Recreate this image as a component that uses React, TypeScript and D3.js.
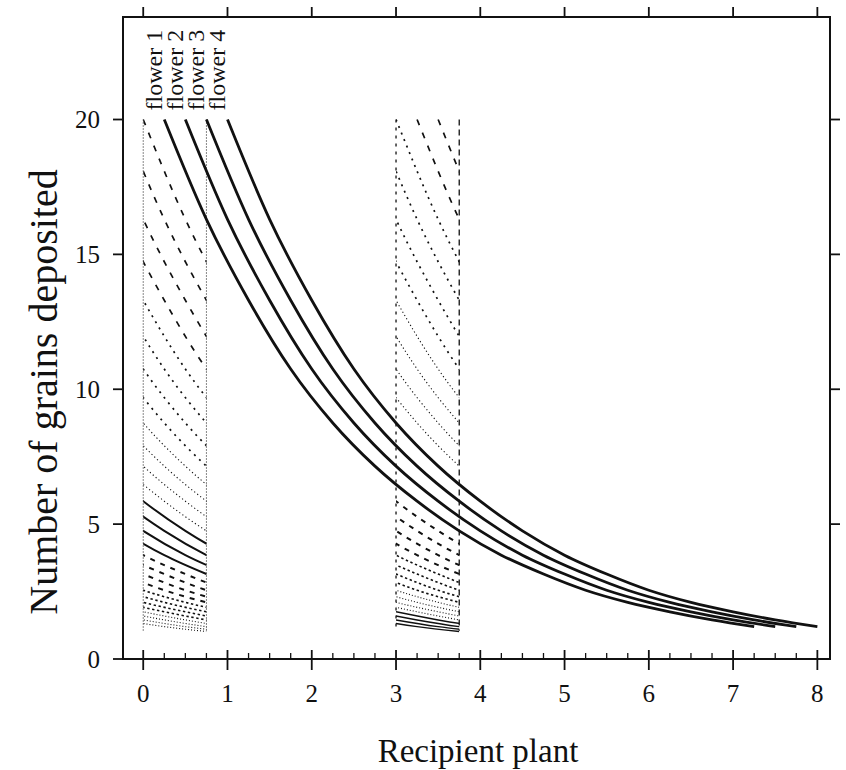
import React from 'react';
import * as d3 from 'd3';

// ---------- data ----------
const xTicks = [0, 1, 2, 3, 4, 5, 6, 7, 8];
const xMinorTicks = [0.25, 0.5, 0.75, 1.25, 1.5, 1.75, 2.25, 2.5, 2.75, 3.25, 3.5, 3.75, 4.25, 4.5, 4.75, 5.25, 5.5, 5.75, 6.25, 6.5, 6.75, 7.25, 7.5, 7.75];
const yTicks = [0, 5, 10, 15, 20];

// shape of the deposition curve (grains vs. distance from the first recipient)
const profileDistance = [0, 0.5, 1, 1.5, 2, 2.5, 3, 3.5, 4, 4.5, 5, 5.5, 6, 6.5, 7, 7.5];
const profileValue = [20, 16.3, 13.3, 10.75, 8.75, 7.15, 5.85, 4.75, 3.85, 3.15, 2.55, 2.1, 1.75, 1.45, 1.2, 1.02];

const flowerNames = ['flower 1', 'flower 2', 'flower 3', 'flower 4'];
const flowerStarts = [0.25, 0.5, 0.75, 1.0];
const flowerSpan = 7;

// hatched recipient windows
const region1Bounds = [0, 0.75];
const region1Styles = ['longDash', 'medDot', 'fineDot', 'solid', 'shortDash', 'denseDot', 'tinyDot'];
const region1Starts = [
  [0, -0.25, -0.5, -0.75],
  [-1, -1.25, -1.5, -1.75],
  [-2, -2.25, -2.5, -2.75],
  [-3, -3.25, -3.5, -3.75],
  [-4, -4.25, -4.5, -4.75],
  [-5, -5.25, -5.5, -5.75],
  [-6, -6.25, -6.5, -6.75],
];

const region2Bounds = [3, 3.75];
const region2Styles = ['longDash', 'medDot', 'fineDot', 'shortDash', 'denseDot', 'tinyDot', 'thinSolid'];
const region2Starts = [
  [3.25, 3.5],
  [2.25, 2.5, 2.75, 3.0],
  [1.25, 1.5, 1.75, 2.0],
  [-0.75, -0.5, -0.25, 0],
  [-1.75, -1.5, -1.25, -1],
  [-2.75, -2.5, -2.25, -2],
  [-3.75, -3.5, -3.25, -3],
];
const regionBottom = 1.05;
const regionTop = 20;

// ---------- styles ----------
const lineStyles: Record<string, { w: number; dash: string | null }> = {
  longDash: { w: 1.7, dash: '6 8' },
  medDot: { w: 1.7, dash: '2 5' },
  fineDot: { w: 1.1, dash: '1.2 2.6' },
  solid: { w: 2, dash: null },
  thinSolid: { w: 1.5, dash: null },
  shortDash: { w: 2, dash: '5 6' },
  denseDot: { w: 1.6, dash: '2.4 2.6' },
  tinyDot: { w: 1.1, dash: '1 2' },
};

const W = 846;
const H = 770;

export default function App() {
  const x = d3.scaleLinear().domain([-0.24, 8.15]).range([123, 830]);
  const y = d3.scaleLinear().domain([0, 23.8]).range([659, 17]);

  const line = d3
    .line<[number, number]>()
    .x((d) => x(d[0]))
    .y((d) => y(d[1]))
    .curve(d3.curveMonotoneX);

  const curvePts = (s: number, maxD: number): [number, number][] =>
    profileDistance
      .map((d, i) => [s + d, profileValue[i]] as [number, number])
      .filter((p, i) => profileDistance[i] <= maxD + 1e-9);

  const renderRegion = (
    id: string,
    bounds: number[],
    styles: string[],
    starts: number[][]
  ) => (
    <g clipPath={`url(#${id})`}>
      {starts.map((grp, gi) =>
        grp.map((s, li) => {
          const st = lineStyles[styles[gi]];
          return (
            <path
              key={`${id}-${gi}-${li}`}
              d={line(curvePts(s, 7.5)) || ''}
              fill="none"
              stroke="#111"
              strokeWidth={st.w}
              strokeDasharray={st.dash || undefined}
            />
          );
        })
      )}
    </g>
  );

  const font = '"Liberation Serif", "Times New Roman", serif';

  return (
    <svg
      width={W}
      height={H}
      style={{ position: 'absolute', left: 0, top: 0, background: '#fff' }}
      fontFamily={font}
    >
      <defs>
        <clipPath id="r1">
          <rect
            x={x(region1Bounds[0])}
            y={y(regionTop + 0.5)}
            width={x(region1Bounds[1]) - x(region1Bounds[0])}
            height={y(regionBottom - 0.3) - y(regionTop + 0.5)}
          />
        </clipPath>
        <clipPath id="r2">
          <rect
            x={x(region2Bounds[0])}
            y={y(regionTop + 0.5)}
            width={x(region2Bounds[1]) - x(region2Bounds[0])}
            height={y(regionBottom - 0.3) - y(regionTop + 0.5)}
          />
        </clipPath>
      </defs>
      <rect width={W} height={H} fill="#fff" />

      {/* frame */}
      <rect x={123} y={17} width={707} height={642} fill="none" stroke="#111" strokeWidth={2} />

      {/* x ticks bottom */}
      {xTicks.map((t) => (
        <g key={`xt${t}`}>
          <line x1={x(t)} x2={x(t)} y1={650} y2={670} stroke="#111" strokeWidth={1.8} />
          <text x={x(t)} y={702} fontSize={25} textAnchor="middle" fill="#111">
            {t}
          </text>
          <line x1={x(t)} x2={x(t)} y1={17} y2={7} stroke="#111" strokeWidth={1.8} />
        </g>
      ))}
      {xMinorTicks.map((t) => (
        <line key={`xm${t}`} x1={x(t)} x2={x(t)} y1={653} y2={659} stroke="#111" strokeWidth={1.3} />
      ))}

      {/* y ticks */}
      {yTicks.map((t) => (
        <g key={`yt${t}`}>
          <line x1={113} x2={123} y1={y(t)} y2={y(t)} stroke="#111" strokeWidth={1.8} />
          {t > 0 && <line x1={830} x2={840} y1={y(t)} y2={y(t)} stroke="#111" strokeWidth={1.8} />}
          <text x={100} y={y(t)} dy="0.35em" fontSize={25} textAnchor="end" fill="#111">
            {t}
          </text>
        </g>
      ))}

      {/* hatched windows */}
      {renderRegion('r1', region1Bounds, region1Styles, region1Starts)}
      {renderRegion('r2', region2Bounds, region2Styles, region2Starts)}

      {/* window edges */}
      {region1Bounds.map((b, i) => (
        <line
          key={`r1e${i}`}
          x1={x(b)}
          x2={x(b)}
          y1={y(regionTop)}
          y2={y(regionBottom)}
          stroke="#111"
          strokeWidth={1}
          strokeDasharray="1 2"
        />
      ))}
      <line x1={x(region2Bounds[0])} x2={x(region2Bounds[0])} y1={y(regionTop)} y2={y(regionBottom)} stroke="#111" strokeWidth={1.3} strokeDasharray="3 5" />
      <line x1={x(region2Bounds[1])} x2={x(region2Bounds[1])} y1={y(regionTop)} y2={y(regionBottom)} stroke="#111" strokeWidth={1.3} strokeDasharray="6 4" />

      {/* flower curves */}
      {flowerStarts.map((s, i) => (
        <g key={`fl${i}`}>
          <path d={line(curvePts(s, flowerSpan)) || ''} fill="none" stroke="#111" strokeWidth={2.8} />
          <text
            transform={`translate(${x(s) - 2},${y(20) - 9}) rotate(-90)`}
            fontSize={24}
            fill="#111"
          >
            {flowerNames[i]}
          </text>
        </g>
      ))}

      {/* axis titles */}
      <text x={478} y={762} fontSize={33} textAnchor="middle" fill="#111">
        Recipient plant
      </text>
      <text
        transform={`translate(57,392) rotate(-90)`}
        fontSize={40}
        textAnchor="middle"
        fill="#111"
      >
        Number of grains deposited
      </text>
    </svg>
  );
}
